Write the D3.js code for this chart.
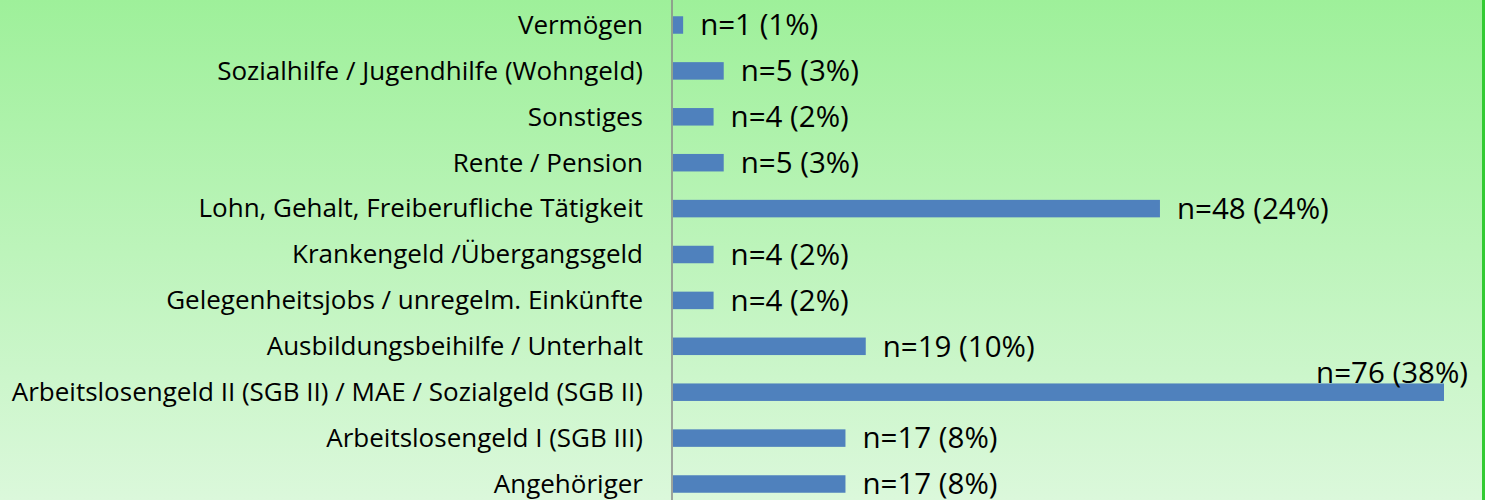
<!DOCTYPE html>
<html>
<head>
<meta charset="utf-8">
<title>Einkünfte</title>
<style>
  body { margin: 0; overflow: hidden; }
  text { font-family: "Open Sans", sans-serif; fill: #000; }
</style>
</head>
<body>
<script src="https://cdn.jsdelivr.net/npm/d3@7"></script>
<script>
  // data, top to bottom
  var categories = [
    "Vermögen",
    "Sozialhilfe / Jugendhilfe (Wohngeld)",
    "Sonstiges",
    "Rente / Pension",
    "Lohn, Gehalt, Freiberufliche Tätigkeit",
    "Krankengeld /Übergangsgeld",
    "Gelegenheitsjobs / unregelm. Einkünfte",
    "Ausbildungsbeihilfe / Unterhalt",
    "Arbeitslosengeld II (SGB II) / MAE / Sozialgeld (SGB II)",
    "Arbeitslosengeld I (SGB III)",
    "Angehöriger"
  ];
  var counts = [1, 5, 4, 5, 48, 4, 4, 19, 76, 17, 17];
  var percents = [1, 3, 2, 3, 24, 2, 2, 10, 38, 8, 8];

  var width = 1485, height = 500;

  var svg = d3.select("body").append("svg")
    .attr("width", width)
    .attr("height", height);

  // background gradient
  var grad = svg.append("defs").append("linearGradient")
    .attr("id", "bg").attr("x1", 0).attr("y1", 0).attr("x2", 0).attr("y2", 1);
  grad.append("stop").attr("offset", "0%").attr("stop-color", "#9ef09a");
  grad.append("stop").attr("offset", "100%").attr("stop-color", "#dbf8db");

  svg.append("rect").attr("width", width).attr("height", height).attr("fill", "url(#bg)");
  svg.append("rect").attr("x", 1482).attr("width", 3).attr("height", height).attr("fill", "#33cc33");

  var x = d3.scaleLinear().domain([0, 76]).range([673, 1444]);
  var y = d3.scalePoint().domain(categories).range([25, 484]);
  var barH = 17.5;

  // bars
  svg.selectAll("rect.bar")
    .data(categories)
    .enter().append("rect")
    .attr("class", "bar")
    .attr("x", x(0))
    .attr("y", function(d) { return y(d) - barH / 2; })
    .attr("width", function(d, i) { return x(counts[i]) - x(0); })
    .attr("height", barH)
    .attr("fill", "#4f81bd");

  // category axis
  var yAxis = d3.axisLeft(y).tickSize(0).tickPadding(29);
  var g = svg.append("g")
    .attr("transform", "translate(672,0)")
    .call(yAxis);
  g.select(".domain").remove();
  g.selectAll("text").style("font-size", "26px").style("font-family", "'Open Sans', sans-serif");
  svg.append("line")
    .attr("x1", 672).attr("x2", 672).attr("y1", 0).attr("y2", height)
    .attr("stroke", "#888").attr("stroke-width", 1.5);

  // value labels
  svg.selectAll("text.val")
    .data(categories)
    .enter().append("text")
    .attr("class", "val")
    .attr("x", function(d, i) { return counts[i] === 76 ? 1468 : x(counts[i]) + 17; })
    .attr("y", function(d, i) { return counts[i] === 76 ? y(d) - 20 : y(d); })
    .attr("dy", "0.35em")
    .attr("text-anchor", function(d, i) { return counts[i] === 76 ? "end" : "start"; })
    .style("font-size", "29.5px")
    .text(function(d, i) { return "n=" + counts[i] + " (" + percents[i] + "%)"; });
</script>
</body>
</html>
